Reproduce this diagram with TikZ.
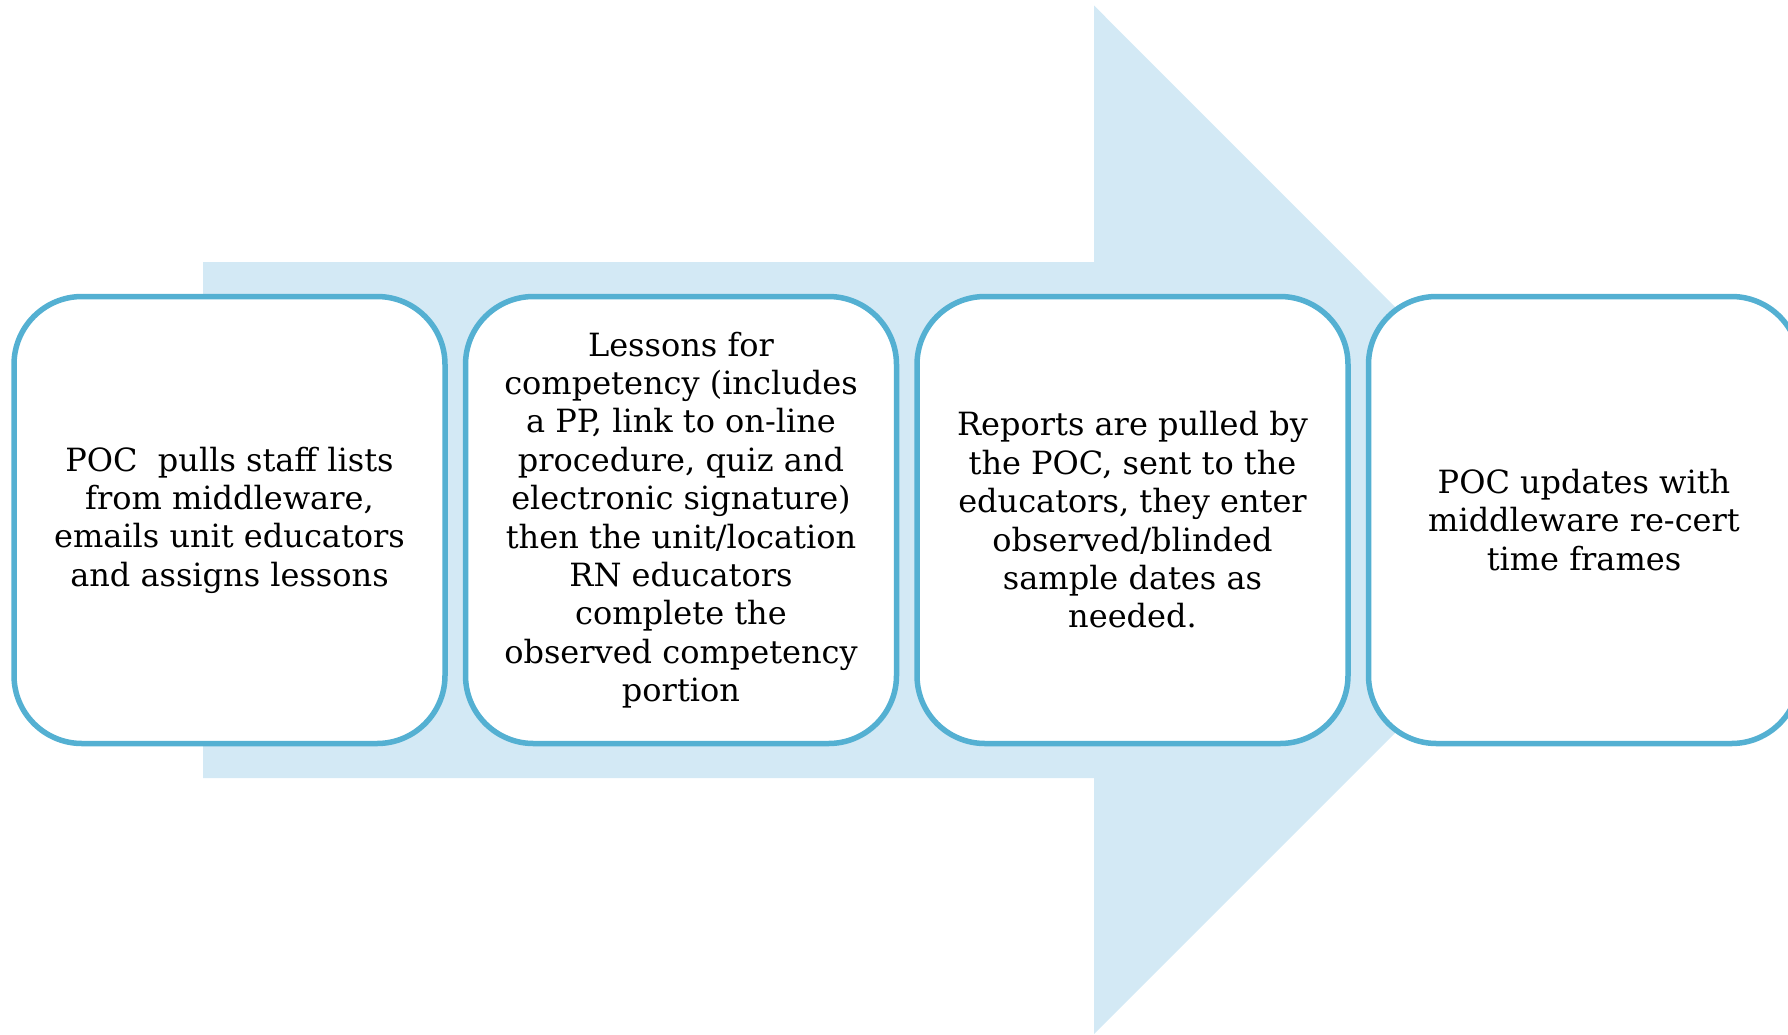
\documentclass[tikz,border=0pt]{standalone}
\usepackage{fontspec}
\setmainfont{DejaVu Serif}
\definecolor{arrowfill}{RGB}{211,233,245}
\definecolor{boxline}{RGB}{84,176,210}
\begin{document}
\begin{tikzpicture}[x=1pt,y=-1pt,
  stepbox/.style={draw=boxline, line width=5.5pt, fill=white, rounded corners=68pt,
    minimum width=431pt, minimum height=447pt, inner sep=0pt, align=center,
    font=\fontsize{32}{38.4}\selectfont, text=black}]
\useasboundingbox (0,0) rectangle (1788,1034);
% big background arrow
\fill[arrowfill] (203,262) -- (1094,262) -- (1094,5.5) -- (1608,520) -- (1094,1034) -- (1094,778) -- (203,778) -- cycle;
% boxes
\node[stepbox] (b1) at (229.5,520) {POC\ \ pulls staff lists\\from middleware,\\emails unit educators\\and assigns lessons};
\node[stepbox] (b2) at (681,520) {Lessons for\\competency (includes\\a PP, link to on-line\\procedure, quiz and\\electronic signature)\\then the unit/location\\RN educators\\complete the\\observed competency\\portion};
\node[stepbox] (b3) at (1132.5,520) {Reports are pulled by\\the POC, sent to the\\educators, they enter\\observed/blinded\\sample dates as\\needed.};
\node[stepbox] (b4) at (1584,520) {POC updates with\\middleware re-cert\\time frames};
\end{tikzpicture}
\end{document}
